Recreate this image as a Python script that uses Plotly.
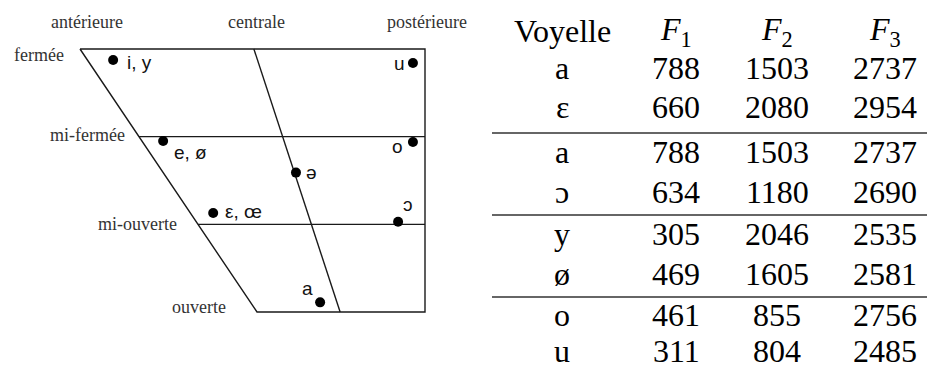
import plotly.graph_objects as go

# Vowel chart (trapeze vocalique) - height levels and vowel placements
levels = ["fermée", "mi-fermée", "mi-ouverte", "ouverte"]
backness = ["antérieure", "centrale", "postérieure"]

# vowel placements: x = backness (0 front .. 1 back), y = aperture (0 closed .. 3 open)
vowel_labels = ["i, y", "u", "e, ø", "o", "ə", "ε, œ", "ɔ", "a"]
vowel_x = [0.096, 0.965, 0.241, 0.965, 0.626, 0.386, 0.922, 0.696]
vowel_y = [0.125, 0.16, 1.05, 1.06, 1.41, 1.87, 1.97, 2.89]

# Formant table
table_vowels = ["a", "ε", "a", "ɔ", "y", "ø", "o", "u"]
f1 = [788, 660, 788, 634, 305, 469, 461, 311]
f2 = [1503, 2080, 1503, 1180, 2046, 1605, 855, 804]
f3 = [2737, 2954, 2737, 2690, 2535, 2581, 2756, 2485]
headers = ["Voyelle", "<i>F</i><sub>1</sub>", "<i>F</i><sub>2</sub>", "<i>F</i><sub>3</sub>"]

W, H = 927, 370

# trapezoid geometry
front_edge = [0.0, 0.171, 0.342, 0.513]   # front edge x at each level
central_top, central_bot = 0.504, 0.754

serif = "Liberation Serif"
sans = "Liberation Sans"
line_col = "#1a1a1a"

fig = go.Figure()

# outline
fig.add_trace(go.Scatter(x=[front_edge[0], 1, 1, front_edge[3], front_edge[0]],
                         y=[0, 0, 3, 3, 0], mode="lines",
                         line=dict(color=line_col, width=1.4), hoverinfo="skip"))
for lv in (1, 2):
    fig.add_trace(go.Scatter(x=[front_edge[lv], 1], y=[lv, lv], mode="lines",
                             line=dict(color=line_col, width=1.4), hoverinfo="skip"))
fig.add_trace(go.Scatter(x=[central_top, central_bot], y=[0, 3], mode="lines",
                         line=dict(color=line_col, width=1.4), hoverinfo="skip"))

# vowel dots
fig.add_trace(go.Scatter(x=vowel_x, y=vowel_y, mode="markers",
                         marker=dict(color="black", size=10), text=vowel_labels,
                         hoverinfo="text"))

# vowel labels (anchor, xshift, yshift)
label_pos = [("left", 12, -3), ("right", -6, 0), ("left", 9, -11), ("right", -8, -5),
             ("left", 8, 0), ("left", 10, 1), ("center", 10, 17), ("center", -13, 14)]
for lab, x, y, (anc, dx, dy) in zip(vowel_labels, vowel_x, vowel_y, label_pos):
    fig.add_annotation(x=x, y=y, text=lab, showarrow=False, xanchor=anc, yanchor="middle",
                       xshift=dx, yshift=dy, font=dict(family=sans, size=19, color="#111"))

# backness labels along the top
back_x = [0.02, 0.513, 1.006]
for lab, x in zip(backness, back_x):
    fig.add_annotation(x=x, y=-0.308, text=lab, showarrow=False, xanchor="center",
                       font=dict(family=serif, size=18, color="#333"))

# aperture labels on the left
lev_x = [-0.041, 0.136, 0.287, 0.429]
lev_y = [0.068, 0.98, 1.996, 2.943]
for lab, x, y in zip(levels, lev_x, lev_y):
    fig.add_annotation(x=x, y=y, text=lab, showarrow=False, xanchor="right",
                       font=dict(family=serif, size=18, color="#333"))

# table (paper coords from pixel layout)
col_px = [562, 676, 777, 885]
header_py = 31
row_py = [68, 107, 152, 192, 234, 274, 315, 351]
rule_py = [133, 215, 297]

def px(x):
    return x / W

def py(y):
    return 1 - y / H

for h, cx in zip(headers, col_px):
    fig.add_annotation(x=px(cx), y=py(header_py), xref="paper", yref="paper", text=h,
                       showarrow=False, xanchor="center", yanchor="middle", borderpad=0,
                       font=dict(family=serif, size=32, color="black"))

for i, ry in enumerate(row_py):
    cells = [table_vowels[i], str(f1[i]), str(f2[i]), str(f3[i])]
    for c, cx in zip(cells, col_px):
        fig.add_annotation(x=px(cx), y=py(ry), xref="paper", yref="paper", text=c,
                           showarrow=False, xanchor="center", yanchor="middle", borderpad=0,
                           font=dict(family=serif, size=32, color="black"))

for ry in rule_py:
    fig.add_shape(type="line", xref="paper", yref="paper", x0=px(492), x1=1,
                  y0=py(ry), y1=py(ry), line=dict(color="#333", width=1.6))

fig.update_layout(
    width=W, height=H,
    margin=dict(l=0, r=0, t=0, b=0),
    paper_bgcolor="white", plot_bgcolor="white",
    showlegend=False,
    xaxis=dict(range=[-80 / 345, (W - 80) / 345], visible=False, fixedrange=True),
    yaxis=dict(range=[(H - 49) / 87.67, -49 / 87.67], visible=False, fixedrange=True),
)

# drop the default page margin so the figure sits at the window's corner
fig.write_html("out.html", config={"displayModeBar": False},
               post_script="document.body.style.margin='0';document.body.style.overflow='hidden';")
